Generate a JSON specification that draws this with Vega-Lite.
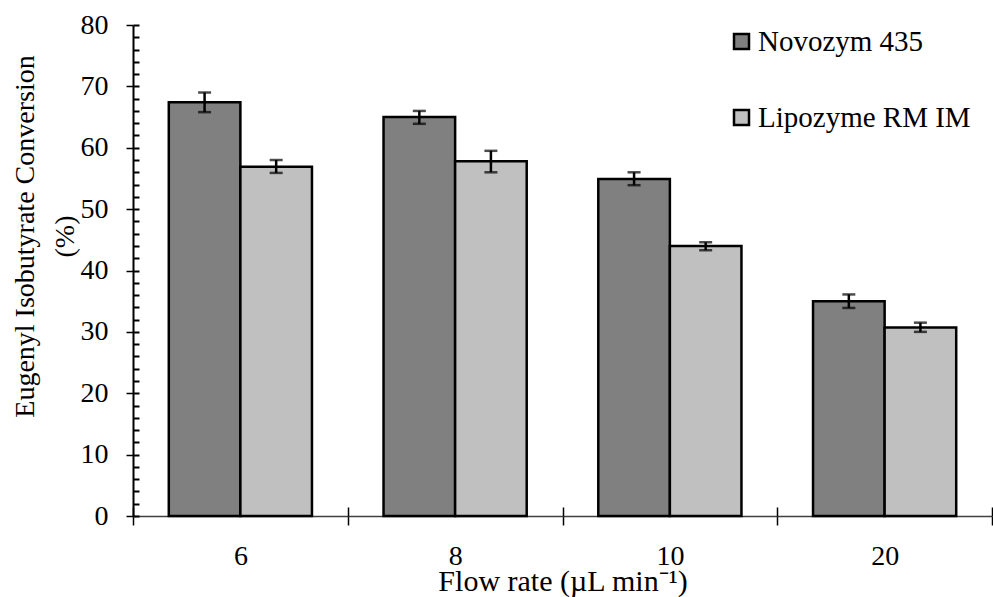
{
  "$schema": "https://vega.github.io/schema/vega-lite/v6.json",
  "width": 859,
  "height": 491,
  "autosize": {"type": "none"},
  "padding": {"left": 133, "top": 25, "right": 1, "bottom": 81},
  "background": "white",
  "config": {
    "view": {"stroke": null},
    "font": "Liberation Serif",
    "axis": {"labelFont": "Liberation Serif", "titleFont": "Liberation Serif", "labelColor": "black", "titleColor": "black", "titleFontWeight": "normal", "labelFontSize": 28, "titleFontSize": 28, "grid": false},
    "legend": {"labelFont": "Liberation Serif", "titleFont": "Liberation Serif", "labelFontSize": 29, "labelColor": "black"}
  },
  "data": {
    "values": [
      {"flow": "6", "series": "Novozym 435", "value": 67.4, "lo": 65.8, "hi": 69.0},
      {"flow": "6", "series": "Lipozyme RM IM", "value": 56.9, "lo": 55.9, "hi": 58.0},
      {"flow": "8", "series": "Novozym 435", "value": 65.0, "lo": 63.9, "hi": 66.0},
      {"flow": "8", "series": "Lipozyme RM IM", "value": 57.8, "lo": 56.0, "hi": 59.5},
      {"flow": "10", "series": "Novozym 435", "value": 54.9, "lo": 53.9, "hi": 56.0},
      {"flow": "10", "series": "Lipozyme RM IM", "value": 44.0, "lo": 43.3, "hi": 44.6},
      {"flow": "20", "series": "Novozym 435", "value": 35.0, "lo": 33.9, "hi": 36.1},
      {"flow": "20", "series": "Lipozyme RM IM", "value": 30.7, "lo": 30.0, "hi": 31.5}
    ]
  },
  "encoding": {
    "x": {"field": "flow", "type": "nominal", "sort": ["6", "8", "10", "20"], "scale": {"paddingInner": 0, "paddingOuter": 0}, "axis": null},
    "xOffset": {"field": "series", "type": "nominal", "sort": ["Novozym 435", "Lipozyme RM IM"], "scale": {"paddingInner": 0, "paddingOuter": 0.5}}
  },
  "layer": [
    {
      "mark": {"type": "bar", "stroke": "black", "strokeWidth": 2.5},
      "encoding": {
        "x": {"field": "flow", "type": "nominal", "sort": ["6", "8", "10", "20"],
          "axis": {"title": "Flow rate (µL min⁻¹)", "titleFontSize": 30, "labelAngle": 0, "tickBand": "extent", "tickSize": 9, "tickWidth": 1.5, "tickColor": "black", "domainColor": "#404040", "domainWidth": 1.5, "labelPadding": 17, "titleY": 74, "titleBaseline": "alphabetic", "titlePadding": 0}},
        "y": {"field": "value", "type": "quantitative", "scale": {"domain": [0, 80], "nice": false},
          "axis": {"values": [0, 10, 20, 30, 40, 50, 60, 70, 80], "title": ["Eugenyl Isobutyrate Conversion", "(%)"], "tickSize": 7, "tickWidth": 1.5, "tickColor": "black", "domainColor": "black", "domainWidth": 2, "labelPadding": 18, "titleAngle": -90, "titleX": -122, "titleY": 211, "titleBaseline": "top", "titleAlign": "center", "titleLineHeight": 40}},
        "fill": {"field": "series", "type": "nominal", "sort": ["Novozym 435", "Lipozyme RM IM"],
          "scale": {"domain": ["Novozym 435", "Lipozyme RM IM"], "range": ["#808080", "#c0c0c0"]},
          "legend": {"title": null, "orient": "none", "legendX": 594, "legendY": 2, "padding": 0, "symbolType": "square", "symbolSize": 225, "symbolStrokeColor": "black", "symbolStrokeWidth": 2.5, "symbolOpacity": 1, "labelFont": "Liberation Serif", "labelFontSize": 29, "labelColor": "black", "labelOffset": 2, "labelLimit": 400, "rowPadding": 46, "direction": "vertical"}}
      }
    },
    {
      "mark": {"type": "rule", "color": "black", "strokeWidth": 2.5},
      "encoding": {
        "y": {"field": "lo", "type": "quantitative",
          "axis": {"orient": "left", "title": null, "labels": false, "domain": false, "values": [0, 2, 4, 6, 8, 10, 12, 14, 16, 18, 20, 22, 24, 26, 28, 30, 32, 34, 36, 38, 40, 42, 44, 46, 48, 50, 52, 54, 56, 58, 60, 62, 64, 66, 68, 70, 72, 74, 76, 78, 80], "offset": -6, "tickSize": 6, "tickWidth": 2, "tickColor": "black"}},
        "y2": {"field": "hi"}
      }
    },
    {
      "mark": {"type": "tick", "color": "black", "thickness": 2.5, "size": 13, "orient": "horizontal"},
      "encoding": {
        "x": {"field": "flow", "type": "nominal", "sort": ["6", "8", "10", "20"],
          "axis": {"orient": "bottom", "title": null, "labels": false, "domain": false, "tickBand": "extent", "offset": -9, "tickSize": 9, "tickWidth": 1.5, "tickColor": "black"}},
        "y": {"field": "lo", "type": "quantitative", "axis": null}}
    },
    {
      "mark": {"type": "tick", "color": "black", "thickness": 2.5, "size": 13, "orient": "horizontal"},
      "encoding": {"y": {"field": "hi", "type": "quantitative", "axis": null}}
    }
  ],
  "resolve": {"axis": {"x": "independent", "y": "independent"}}
}
